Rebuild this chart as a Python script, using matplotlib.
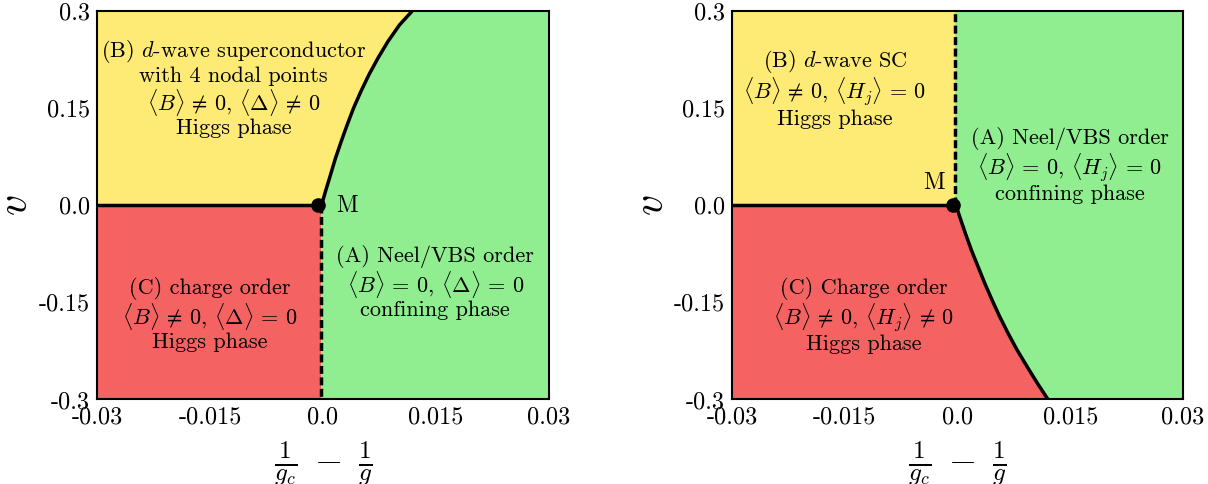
import matplotlib
matplotlib.use("Agg")
import matplotlib.pyplot as plt
import numpy as np

plt.rcParams['font.family'] = ['cmr10', 'DejaVu Serif']
plt.rcParams['mathtext.fontset'] = 'cm'
plt.rcParams['axes.unicode_minus'] = False
plt.rcParams['axes.formatter.use_mathtext'] = True

# ---- data ----
xticks = [-0.03, -0.015, 0.0, 0.015, 0.03]
xtick_labels = ['-0.03', '-0.015', '0.0', '0.015', '0.03']
yticks = [-0.3, -0.15, 0.0, 0.15, 0.3]
ytick_labels = ['-0.3', '-0.15', '0.0', '0.15', '0.3']

# left panel: B/A boundary (v > 0)
left_curve_v = [0.0, 0.0215, 0.0472, 0.0729, 0.0987, 0.1243, 0.150,
                0.1758, 0.2015, 0.2272, 0.253, 0.2786, 0.3]
left_curve_x = [-0.0002, 0.00033, 0.0010, 0.00166, 0.00242, 0.00321, 0.00405,
                0.00503, 0.00609, 0.00729, 0.00862, 0.01016, 0.01184]
# right panel: C/A boundary (v < 0)
right_curve_v = [0.0, -0.0177, -0.0433, -0.0691, -0.0948, -0.1204, -0.1462,
                 -0.172, -0.1976, -0.2234, -0.2491, -0.2748, -0.3]
right_curve_x = [-0.0002, 0.00029, 0.00104, 0.00184, 0.00273, 0.00362, 0.00459,
                 0.00561, 0.00672, 0.00792, 0.00925, 0.01062, 0.01204]

M_point = (-0.0006, 0.0)
boundary_x = -0.0003

yellow = '#FEEB75'
red = '#F46262'
green = '#90EE90'

fig = plt.figure(figsize=(12.08, 4.84), dpi=100)
axL = fig.add_axes([0.0803, 0.1746, 0.3742, 0.8027])
axR = fig.add_axes([0.606, 0.1746, 0.3733, 0.8027])

xmin, xmax = -0.03, 0.03
vmin, vmax = -0.3, 0.3

tsize = 16
lw = 2.5
ls = 1.04

for ax in (axL, axR):
    ax.set_facecolor(green)
    ax.set_xlim(xmin, xmax)
    ax.set_ylim(vmin, vmax)
    ax.set_xticks(xticks)
    ax.set_xticklabels(xtick_labels)
    ax.set_yticks(yticks)
    ax.set_yticklabels(ytick_labels)
    ax.tick_params(length=0, labelsize=17.5, pad=5)
    for s in ax.spines.values():
        s.set_linewidth(1.5)
    ax.set_xlabel(r'$\frac{1}{g_c}\;-\;\frac{1}{g}$', fontsize=26, labelpad=8)
    ax.set_ylabel(r'$v$', fontsize=30, rotation=90, va='center', ha='center')
    ax.yaxis.set_label_coords(-0.178, 0.5)

def lines(*parts):
    return '\n'.join(parts)

# ---- left panel ----
axL.fill_betweenx(left_curve_v, xmin, left_curve_x, color=yellow, lw=0)
axL.fill_between([xmin, boundary_x], vmin, 0, color=red, lw=0)
axL.plot(left_curve_x, left_curve_v, color='black', lw=lw, solid_joinstyle='round')
axL.plot([xmin, boundary_x], [0, 0], color='black', lw=lw)
axL.plot([boundary_x, boundary_x], [0, vmin], color='black', lw=lw,
         dashes=(2.3, 1.0))
axL.plot(*M_point, 'o', color='black', ms=9.5, zorder=5)
axL.text(0.0017, -0.001, 'M', fontsize=17, ha='left', va='center')
axL.text(-0.0119, 0.181,
         lines('(B) $d$-wave superconductor', 'with 4 nodal points',
               r'$\langle B\rangle\,\neq\,0$, $\langle \Delta\rangle\,\neq\,0$',
               'Higgs phase'),
         fontsize=tsize, ha='center', va='center', linespacing=ls)
axL.text(-0.0150, -0.169,
         lines('(C) charge order',
               r'$\langle B\rangle\,\neq\,0$, $\langle \Delta\rangle\,=\,0$',
               'Higgs phase'),
         fontsize=tsize, ha='center', va='center', linespacing=ls)
axL.text(0.0149, -0.120,
         lines('(A) Neel/VBS order',
               r'$\langle B\rangle\,=\,0$, $\langle \Delta\rangle\,=\,0$',
               'confining phase'),
         fontsize=tsize, ha='center', va='center', linespacing=ls)

# ---- right panel ----
axR.fill_between([xmin, boundary_x], 0, vmax, color=yellow, lw=0)
axR.fill_betweenx(right_curve_v, xmin, right_curve_x, color=red, lw=0)
axR.plot(right_curve_x, right_curve_v, color='black', lw=lw, solid_joinstyle='round')
axR.plot([xmin, boundary_x], [0, 0], color='black', lw=lw)
axR.plot([boundary_x, boundary_x], [0, vmax], color='black', lw=lw,
         dashes=(2.3, 1.0))
axR.plot(*M_point, 'o', color='black', ms=9.5, zorder=5)
axR.text(-0.0017, 0.035, 'M', fontsize=17, ha='right', va='center')
axR.text(-0.0163, 0.181,
         lines('(B) $d$-wave SC',
               r'$\langle B\rangle\,\neq\,0$, $\langle H_j\rangle\,=\,0$',
               'Higgs phase'),
         fontsize=tsize, ha='center', va='center', linespacing=ls)
axR.text(0.0149, 0.061,
         lines('(A) Neel/VBS order',
               r'$\langle B\rangle\,=\,0$, $\langle H_j\rangle\,=\,0$',
               'confining phase'),
         fontsize=tsize, ha='center', va='center', linespacing=ls)
axR.text(-0.0125, -0.170,
         lines('(C) Charge order',
               r'$\langle B\rangle\,\neq\,0$, $\langle H_j\rangle\,\neq\,0$',
               'Higgs phase'),
         fontsize=tsize, ha='center', va='center', linespacing=ls)

fig.savefig('out.png', dpi=100)
